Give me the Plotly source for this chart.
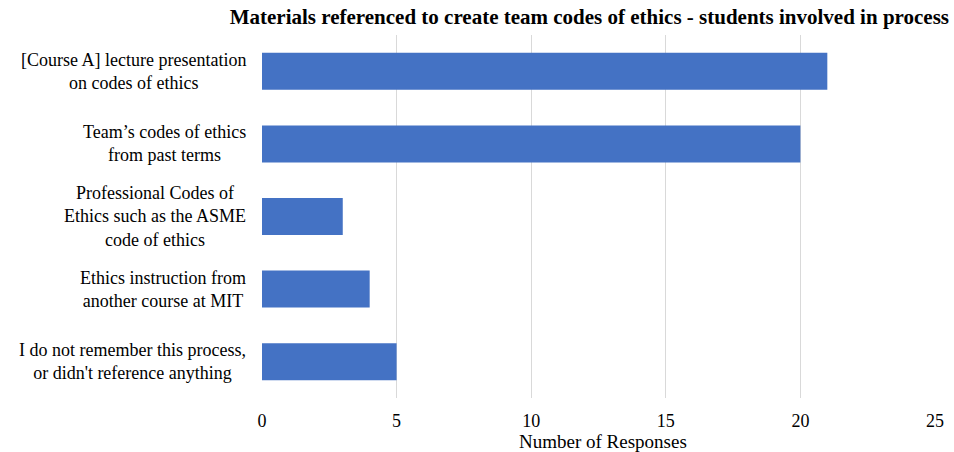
import plotly.graph_objects as go

categories = [
    "[Course A] lecture presentation<br>on codes of ethics",
    "Team’s codes of ethics<br>from past terms",
    "Professional Codes of<br>Ethics such as the ASME<br>code of ethics",
    "Ethics instruction from<br>another course at MIT",
    "I do not remember this process,<br>or didn't reference anything",
]
values = [21, 20, 3, 4, 5]
x_ticks = [0, 5, 10, 15, 20, 25]
x_title = "Number of Responses"

FONT = "Liberation Serif, Times New Roman, serif"

fig = go.Figure(go.Bar(
    x=values, y=categories, orientation="h",
    marker=dict(color="#4472C4", line=dict(width=0)),
    width=0.51,
))

for c in categories:
    fig.add_annotation(
        x=0, xref="paper", xshift=-14, y=c, yref="y",
        text=c, showarrow=False, xanchor="right", yanchor="middle",
        align="center", font=dict(family=FONT, size=18, color="#000000"),
    )

fig.add_annotation(
    x=0.5, xref="paper", xshift=4, y=0, yref="paper", yshift=-43,
    text=x_title, showarrow=False, xanchor="center", yanchor="middle",
    font=dict(family=FONT, size=19, color="#000000"),
)

fig.update_layout(
    width=954, height=452,
    margin=dict(l=262, r=19, t=35, b=54),
    paper_bgcolor="white", plot_bgcolor="white",
    showlegend=False,
    title=dict(
        text="<b>Materials referenced to create team codes of ethics - students involved in process</b>",
        x=949 / 954, xanchor="right", xref="container", y=1 - 17 / 452, yanchor="middle",
        font=dict(family=FONT, size=21, color="#000000"),
    ),
    font=dict(family=FONT, size=18, color="#000000"),
)
fig.update_xaxes(
    range=[0, 25], tickvals=x_ticks, ticktext=[str(t) for t in x_ticks],
    showgrid=True, gridcolor="#d9d9d9", gridwidth=1,
    zeroline=False, showline=False, automargin=False,
    ticks="outside", ticklen=6, tickcolor="rgba(0,0,0,0)",
    tickfont=dict(family=FONT, size=18, color="#000000"),
)
fig.update_yaxes(
    categoryorder="array", categoryarray=categories[::-1],
    showticklabels=False, showgrid=False, zeroline=False, showline=False,
    range=[-0.5, 4.5], automargin=False,
)

fig.write_html(
    "out.html",
    config={"displayModeBar": False},
    post_script="document.body.style.margin='0';",
)
